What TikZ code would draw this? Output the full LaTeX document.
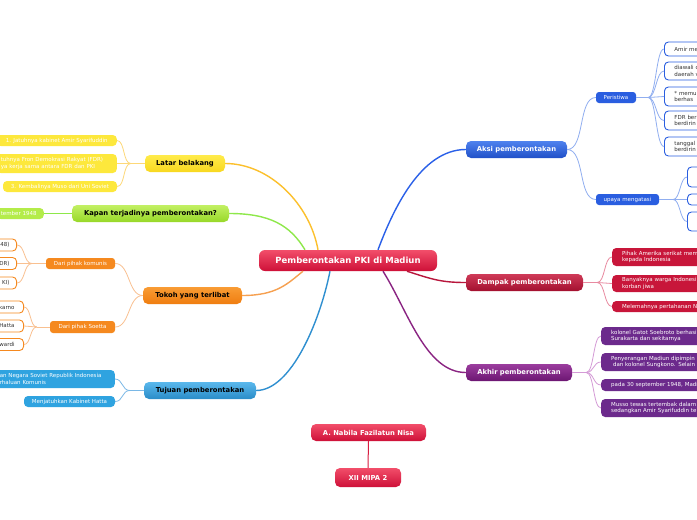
\documentclass[tikz,border=0pt]{standalone}
\usepackage{fontspec}
\setmainfont{DejaVu Sans}
\usetikzlibrary{calc}
\definecolor{rootTop}{HTML}{F24E6A}
\definecolor{rootBot}{HTML}{CE1038}
\definecolor{aksiTop}{HTML}{4F82EE}
\definecolor{aksiBot}{HTML}{2050C8}
\definecolor{dampTop}{HTML}{CF3A58}
\definecolor{dampBot}{HTML}{A3102F}
\definecolor{akhirTop}{HTML}{9B3D9E}
\definecolor{akhirBot}{HTML}{6C1672}
\definecolor{latTop}{HTML}{FFEB4A}
\definecolor{latBot}{HTML}{F8D820}
\definecolor{kapTop}{HTML}{C2F064}
\definecolor{kapBot}{HTML}{98D828}
\definecolor{tokTop}{HTML}{F99C34}
\definecolor{tokBot}{HTML}{EF7D10}
\definecolor{tujTop}{HTML}{5AB8EC}
\definecolor{tujBot}{HTML}{2A8CC8}
\definecolor{latL}{HTML}{FDE83C}
\definecolor{kapL}{HTML}{B4EC4A}
\definecolor{oraC}{HTML}{F5891F}
\definecolor{tujL}{HTML}{2FA3E0}
\definecolor{aksiC}{HTML}{2A5EE0}
\definecolor{dampC}{HTML}{C8163A}
\definecolor{akhirC}{HTML}{6C2A8C}
\definecolor{darktext}{HTML}{333333}
\definecolor{latM}{HTML}{FCC02C}
\definecolor{latS}{HTML}{FDD878}
\definecolor{kapM}{HTML}{8EE84A}
\definecolor{tokM}{HTML}{F6A050}
\definecolor{tokS}{HTML}{F9C090}
\definecolor{tujM}{HTML}{2F8FD0}
\definecolor{tujS}{HTML}{7AB8E6}
\definecolor{aksiM}{HTML}{2A60E8}
\definecolor{aksiS}{HTML}{90AEF0}
\definecolor{dampM}{HTML}{B8163C}
\definecolor{dampS}{HTML}{E88AA0}
\definecolor{akhirM}{HTML}{8A2482}
\definecolor{akhirS}{HTML}{D49AD6}
\definecolor{nabM}{HTML}{D81C40}
\begin{document}
\begin{tikzpicture}[x=1pt,y=-1pt,
  rootn/.style={rounded corners=6pt, inner sep=0pt, top color=rootTop, bottom color=rootBot, text=white, font=\bfseries\fontsize{8.5}{10}\selectfont},
  mainbr/.style={rounded corners=5pt, inner sep=0pt, minimum height=17pt, font=\bfseries\fontsize{6.8}{8}\selectfont},
  redbr/.style={top color=rootTop, bottom color=rootBot, text=white},
  bluebr/.style={top color=aksiTop, bottom color=aksiBot, text=white},
  dampbr/.style={top color=dampTop, bottom color=dampBot, text=white},
  akhirbr/.style={top color=akhirTop, bottom color=akhirBot, text=white},
  latbr/.style={top color=latTop, bottom color=latBot, text=black},
  kapbr/.style={top color=kapTop, bottom color=kapBot, text=black},
  tokbr/.style={top color=tokTop, bottom color=tokBot, text=black},
  tujbr/.style={top color=tujTop, bottom color=tujBot, text=black},
  subn/.style={rounded corners=3pt, inner sep=0pt, text=white, font=\fontsize{5.5}{6.5}\selectfont},
  leafn/.style={rounded corners=4pt, inner ysep=0.5pt, inner xsep=4pt, text=white, font=\fontsize{5.5}{6.8}\selectfont},
  rleaf/.style={leafn, anchor=west, text width=110pt, align=left, inner xsep=10pt},
  outleaf/.style={draw, line width=0.9pt, fill=white, text=darktext},
  mainc/.style={line width=1.4pt},
  subc/.style={line width=0.8pt}
]
\useasboundingbox (0,0) rectangle (697,520);
\clip (0,0) rectangle (697,520);
\fill[white] (0,0) rectangle (697,520);

% ---------- main nodes ----------
\node[rootn, minimum width=178pt, minimum height=21pt] (root) at (348,260.5) {Pemberontakan PKI di Madiun};
\node[mainbr, bluebr, minimum width=101pt] (aksi) at (516.5,149.5) {Aksi pemberontakan};
\node[mainbr, dampbr, minimum width=117pt] (damp) at (524.5,282.5) {Dampak pemberontakan};
\node[mainbr, akhirbr, minimum width=106pt] (akhir) at (519,372.5) {Akhir pemberontakan};
\node[mainbr, latbr, minimum width=80pt] (latar) at (185,163.5) {Latar belakang};
\node[mainbr, kapbr, minimum width=157pt] (kapan) at (150.5,213.5) {Kapan terjadinya pemberontakan?};
\node[mainbr, tokbr, minimum width=99pt] (tokoh) at (192.5,295.5) {Tokoh yang terlibat};
\node[mainbr, tujbr, minimum width=112pt] (tujuan) at (200,390.5) {Tujuan pemberontakan};
\node[mainbr, redbr, minimum width=115pt] (nabila) at (368.5,432.5) {A. Nabila Fazilatun Nisa};
\node[mainbr, redbr, minimum width=66pt, minimum height=19pt] (kelas) at (368,477.5) {XII MIPA 2};

% sub nodes
\node[subn, fill=aksiC, minimum width=40pt, minimum height=11pt] (peris) at (616,97.5) {Peristiwa};
\node[subn, fill=aksiC, minimum width=63pt, minimum height=11pt] (upaya) at (627.5,199.5) {upaya mengatasi};
\node[subn, fill=oraC, minimum width=69pt, minimum height=11pt] (kom) at (80.5,263.5) {Dari pihak komunis};
\node[subn, fill=oraC, minimum width=65pt, minimum height=12pt] (soe) at (82.5,327) {Dari pihak Soetta};

% left leaves
\node[leafn, fill=latL, anchor=east, minimum width=120pt, minimum height=11pt] (lb1) at (117,140.5) {1. Jatuhnya kabinet Amir Syarifuddin};
\node[leafn, fill=latL, anchor=east, text width=112pt, align=left, minimum height=19pt] (lb2) at (117,163.5) {tuhnya Fron Demokrasi Rakyat (FDR)\\ya kerja sama antara FDR dan PKI};
\node[leafn, fill=latL, minimum width=114pt, minimum height=11pt] (lb3) at (60,186.5) {3. Kembalinya Muso dari Uni Soviet};
\node[leafn, fill=kapL, anchor=east, text width=39pt, align=left, minimum height=11pt] (kp1) at (44,213.5) {tember 1948};
\node[leafn, outleaf, draw=oraC, anchor=east, text width=40pt, align=right, inner xsep=7pt, minimum height=12pt] (k1) at (17,245) {48)};
\node[leafn, outleaf, draw=oraC, anchor=east, text width=40pt, align=right, inner xsep=7pt, minimum height=12pt] (k2) at (17,263.5) {DR)};
\node[leafn, outleaf, draw=oraC, anchor=east, text width=40pt, align=right, inner xsep=7pt, minimum height=12pt] (k3) at (17,283) {KI)};
\node[leafn, outleaf, draw=oraC, anchor=east, text width=40pt, align=right, inner xsep=9pt, minimum height=12pt] (s1) at (24,307) {karno};
\node[leafn, outleaf, draw=oraC, anchor=east, text width=40pt, align=right, inner xsep=9pt, minimum height=12pt] (s2) at (24,326) {Hatta};
\node[leafn, outleaf, draw=oraC, anchor=east, text width=40pt, align=right, inner xsep=9pt, minimum height=12pt] (s3) at (24,344.5) {wardi};
\node[leafn, fill=tujL, anchor=east, text width=111pt, align=left, minimum height=18pt] (tj1) at (115,379) {an Negara Soviet Republik Indonesia\\rhaluan Komunis};
\node[leafn, fill=tujL, minimum width=91pt, minimum height=11pt] (tj2) at (69.5,401.5) {Menjatuhkan Kabinet Hatta};

% right leaves: Peristiwa
\node[rleaf, outleaf, draw=aksiC, minimum height=14pt] (p1) at (664,49) {Amir men};
\node[rleaf, outleaf, draw=aksiC, minimum height=18pt] (p2) at (664,71) {diawali d\\daerah v};
\node[rleaf, outleaf, draw=aksiC, minimum height=19pt] (p3) at (664,96.5) {* memu\\* berhas};
\node[rleaf, outleaf, draw=aksiC, minimum height=19pt] (p4) at (664,120.5) {FDR ber\\berdirin};
\node[rleaf, outleaf, draw=aksiC, minimum height=19pt] (p5) at (664,146.5) {tanggal\\berdirin};
% upaya
\node[rleaf, outleaf, draw=aksiC, minimum height=20pt] (u1) at (687,177) {};
\node[rleaf, outleaf, draw=aksiC, minimum height=11pt] (u2) at (687,199.5) {};
\node[rleaf, outleaf, draw=aksiC, minimum height=19pt] (u3) at (687,221.5) {};
% dampak
\node[rleaf, fill=dampC, minimum height=18pt] (d1) at (612,257) {Pihak Amerika serikat mem\\kepada Indonesia};
\node[rleaf, fill=dampC, minimum height=17pt] (d2) at (612,283.5) {Banyaknya warga Indonesi\\korban jiwa};
\node[rleaf, fill=dampC, minimum height=11pt] (d3) at (612,306.5) {Melemahnya pertahanan NK};
% akhir
\node[rleaf, fill=akhirC, minimum height=18pt] (a1) at (601,336) {kolonel Gatot Soebroto berhasi\\Surakarta dan sekitarnya};
\node[rleaf, fill=akhirC, minimum height=18pt] (a2) at (601,362) {Penyerangan Madiun dipimpin\\\ dan kolonel Sungkono. Selain};
\node[rleaf, fill=akhirC, minimum height=12pt] (a3) at (601,385) {pada 30 september 1948, Madiu};
\node[rleaf, fill=akhirC, minimum height=18pt] (a4) at (601,408) {Musso tewas tertembak dalam\\sedangkan Amir Syarifuddin te};

% ---------- connectors ----------
\draw[mainc, latM] (latar.east) .. controls +(45,0) and +(-8,-45) .. ($(root.north)+(-30,0)$);
\draw[mainc, kapM] (kapan.east) .. controls +(40,0) and +(-15,-25) .. ($(root.north)+(-43,0)$);
\draw[mainc, tokM] (tokoh.east) .. controls +(35,0) and +(-15,12) .. ($(root.south)+(-45,0)$);
\draw[mainc, tujM] (tujuan.east) .. controls +(35,0) and +(-10,50) .. ($(root.south)+(-18,0)$);
\draw[mainc, aksiM] ($(root.north)+(30,0)$) .. controls +(15,-40) and +(-45,0) .. (aksi.west);
\draw[mainc, dampM] ($(root.south)+(59,0)$) .. controls +(25,8) and +(-25,0) .. (damp.west);
\draw[mainc, akhirM] ($(root.south)+(35,0)$) .. controls +(25,40) and +(-40,0) .. (akhir.west);
\draw[line width=1pt, nabM] (nabila.south) -- (kelas.north);

% aksi subs
\draw[subc, aksiS] (aksi.east) .. controls +(18,0) and +(-18,0) .. (peris.west);
\draw[subc, aksiS] (aksi.east) .. controls +(18,0) and +(-18,0) .. (upaya.west);
\draw[subc, aksiS] (peris.east) -- ++(12,0) coordinate (pj);
\foreach \c in {p1,p2,p3,p4,p5} \draw[subc, aksiS] (pj) .. controls +(8,0) and +(-8,0) .. (\c.west);
\draw[subc, aksiS] (upaya.east) -- ++(14,0) coordinate (uj);
\foreach \c in {u1,u2,u3} \draw[subc, aksiS] (uj) .. controls +(7,0) and +(-7,0) .. (\c.west);
% dampak
\draw[subc, dampS] (damp.east) -- ++(14,0) coordinate (dj);
\foreach \c in {d1,d2,d3} \draw[subc, dampS] (dj) .. controls +(8,0) and +(-8,0) .. (\c.west);
% akhir
\draw[subc, akhirS] (akhir.east) -- ++(14,0) coordinate (aj);
\foreach \c in {a1,a2,a3,a4} \draw[subc, akhirS] (aj) .. controls +(8,0) and +(-8,0) .. (\c.west);
% latar
\draw[subc, latS] (latar.west) -- ++(-14,0) coordinate (lj);
\foreach \c in {lb1,lb2,lb3} \draw[subc, latS] (lj) .. controls +(-8,0) and +(8,0) .. (\c.east);
% kapan
\draw[subc, kapM] (kapan.west) -- (kp1.east);
% tokoh
\draw[subc, tokS] (tokoh.west) .. controls +(-15,0) and +(15,0) .. (kom.east);
\draw[subc, tokS] (tokoh.west) .. controls +(-15,0) and +(15,0) .. (soe.east);
\draw[subc, tokS] (kom.west) -- ++(-14,0) coordinate (kj);
\foreach \c in {k1,k2,k3} \draw[subc, tokS] (kj) .. controls +(-8,0) and +(8,0) .. (\c.east);
\draw[subc, tokS] (soe.west) -- ++(-13,0) coordinate (sj);
\foreach \c in {s1,s2,s3} \draw[subc, tokS] (sj) .. controls +(-7,0) and +(7,0) .. (\c.east);
% tujuan
\draw[subc, tujS] (tujuan.west) -- ++(-14,0) coordinate (tj);
\foreach \c in {tj1,tj2} \draw[subc, tujS] (tj) .. controls +(-8,0) and +(8,0) .. (\c.east);
\end{tikzpicture}
\end{document}
